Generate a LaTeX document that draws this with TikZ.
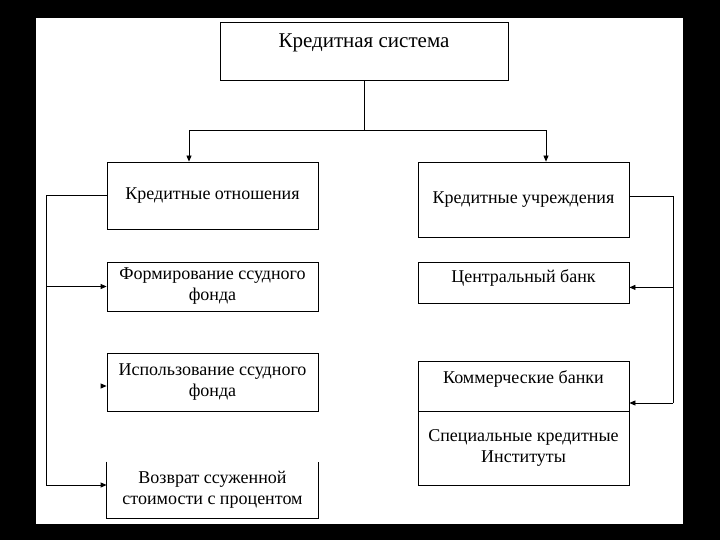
\documentclass[tikz,border=0pt]{standalone}
\usepackage{fontspec}
\setmainfont{Liberation Serif}
\usetikzlibrary{arrows.meta, positioning}

\begin{document}
\begin{tikzpicture}[
    x=1pt, y=-1pt,
    every node/.style={font=\fontsize{18}{21}\selectfont},
    block/.style={rectangle, draw, line width=0.8pt, minimum width=211pt, inner ysep=0pt, align=center},
    arrow/.style={-{Triangle[length=6pt, width=5pt]}, line width=0.8pt},
    wire/.style={line width=0.8pt}
]
% frame
\fill[black] (0,0) rectangle (720,540);
\fill[white] (36,18) rectangle (683,524);

\node (sys) [block, anchor=north, minimum width=288pt, text height=25pt, text depth=33pt, font=\fontsize{21}{25}\selectfont] at (364,22) {Кредитная система};

% left column
\node (rel) [block, minimum height=67pt] at (212.5,195.5) {Кредитные отношения};
\node (form) [block, minimum height=49pt] at (212.5,286.5) {Формирование ссудного\\фонда};
\node (usage) [block, minimum height=58pt] at (212.5,382) {Использование ссудного\\фонда};
\node (ret) [block, draw=none, minimum height=56pt] at (212.5,490) {Возврат ссуженной\\стоимости с процентом};
\draw[wire] (ret.north west) -- (ret.south west) -- (ret.south east) -- (ret.north east);

% right column
\node (inst) [block, minimum height=75pt] at (523.5,199.5) {Кредитные учреждения};
\node (cbank) [block, anchor=north, text height=20pt, text depth=21pt] at (523.5,262) {Центральный банк};
\node (comm) [block, anchor=north, text height=22pt, text depth=28pt] at (523.5,361) {Коммерческие банки};
\node (spec) [block, minimum height=74pt] at (523.5,448) {Специальные кредитные\\Институты};

% top split
\coordinate (split) at (364,130);
\draw[wire] (sys) -- (split);
\draw[arrow] (split) -| ([xshift=-23.5pt]rel.north);
\draw[arrow] (split) -| ([xshift=22.5pt]inst.north);

% left bus
\coordinate (lbus) at (46,485);
\draw[wire] (rel.west) -| (lbus);
\draw[arrow] (lbus |- form.west) -- (form.west);
\draw[arrow] (lbus) -- (lbus -| ret.west);
\coordinate (ustub) at (104,386);
\draw[arrow] (ustub) -- (ustub -| usage.west);

% right bus
\coordinate (rbus) at (673,403);
\coordinate (cbin) at ([yshift=-4.5pt]cbank.east);
\draw[wire] ([yshift=3pt]inst.east) -| (rbus);
\draw[arrow] (rbus |- cbin) -- (cbin);
\draw[arrow] (rbus) -- (rbus -| comm.east);
\end{tikzpicture}
\end{document}
